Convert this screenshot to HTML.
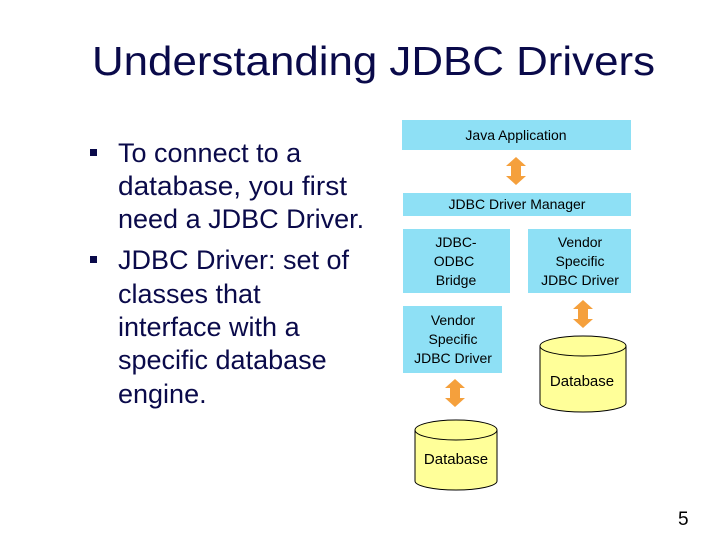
<!DOCTYPE html>
<html><head><meta charset="utf-8"><style>
html,body{margin:0;padding:0;background:#fff;}
svg{display:block;font-family:"Liberation Sans",Arial,sans-serif;}
</style></head><body>
<svg width="720" height="540" viewBox="0 0 720 540" xmlns="http://www.w3.org/2000/svg">
<defs>
<g id="arr">
<polygon points="0,-14 10,-5 5,-5 5,5 10,5 0,14 -10,5 -5,5 -5,-5 -10,-5" fill="#f5a03c"/>
</g>
</defs>
<text x="92" y="75" font-size="41" fill="#0a0a4a" textLength="563" lengthAdjust="spacingAndGlyphs">Understanding JDBC Drivers</text>
<g font-size="27" fill="#0a0a4a">
<rect x="90" y="149" width="7" height="7" fill="#0a0a4a"/>
<text x="118" y="162">To connect to a</text>
<text x="118" y="195" textLength="229" lengthAdjust="spacingAndGlyphs">database, you first</text>
<text x="118" y="228">need a JDBC Driver.</text>
<rect x="90" y="256" width="7" height="7" fill="#0a0a4a"/>
<text x="118" y="269">JDBC Driver:  set of</text>
<text x="118" y="303">classes that</text>
<text x="118" y="336">interface with a</text>
<text x="118" y="369">specific database</text>
<text x="118" y="403">engine.</text>
</g>
<g fill="#8ee0f5">
<rect x="402" y="120" width="229" height="30"/>
<rect x="403" y="193" width="228" height="23"/>
<rect x="403" y="229" width="107" height="64"/>
<rect x="528" y="229" width="103" height="64"/>
<rect x="403" y="306" width="99" height="67"/>
</g>
<g font-size="14" fill="#000" text-anchor="middle">
<text x="516" y="140">Java Application</text>
<text x="517" y="209">JDBC Driver Manager</text>
<text x="456" y="247">JDBC-</text>
<text x="454" y="266">ODBC</text>
<text x="456" y="285">Bridge</text>
<text x="580" y="247">Vendor</text>
<text x="580" y="266">Specific</text>
<text x="580" y="285">JDBC Driver</text>
<text x="453" y="325">Vendor</text>
<text x="453" y="344">Specific</text>
<text x="453" y="363">JDBC Driver</text>
</g>
<use href="#arr" x="516" y="171"/>
<use href="#arr" x="583" y="314"/>
<use href="#arr" x="455" y="393"/>
<g fill="#ffff99" stroke="#000" stroke-width="1">
<path d="M540,346 L540,403 A43,9 0 0 0 626,403 L626,346"/>
<ellipse cx="583" cy="346" rx="43" ry="10"/>
<path d="M415,430 L415,481 A41,9 0 0 0 497,481 L497,430"/>
<ellipse cx="456" cy="430" rx="41" ry="10"/>
</g>
<g font-size="15" fill="#000" text-anchor="middle">
<text x="582" y="386">Database</text>
<text x="456" y="464">Database</text>
</g>
<text x="678" y="525" font-size="19" fill="#000">5</text>
</svg>
</body></html>
